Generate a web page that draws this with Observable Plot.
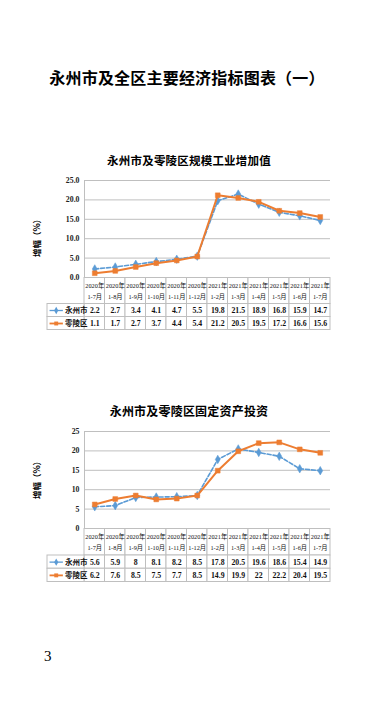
<!DOCTYPE html>
<html><head><meta charset="utf-8">
<script src="https://cdn.jsdelivr.net/npm/d3@7"></script>
<script src="https://cdn.jsdelivr.net/npm/@observablehq/plot@0.6"></script>
<style>
body{margin:0;background:#fff;}
#page{position:relative;width:377px;height:718px;overflow:hidden;font-family:"Noto Sans CJK SC",sans-serif;color:#000;}
.abs{position:absolute;white-space:nowrap;}
.ttl{font-weight:bold;text-align:center;}
.ylab{font-size:8.5px;font-weight:bold;transform:translate(-50%,-50%) rotate(-90deg);}
svg{overflow:visible;}
</style></head><body><div id="page"></div>
<script>
// ---- data ----
const pageTitle = "永州市及全区主要经济指标图表（一）";
const years  = ["2020年","2020年","2020年","2020年","2020年","2020年","2021年","2021年","2021年","2021年","2021年","2021年"];
const months = ["1-7月","1-8月","1-9月","1-10月","1-11月","1-12月","1-2月","1-3月","1-4月","1-5月","1-6月","1-7月"];
const seriesNames = ["永州市","零陵区"];

const c1Title = "永州市及零陵区规模工业增加值";
const c1Yongzhou = [2.2,2.7,3.4,4.1,4.7,5.5,19.8,21.5,18.9,16.8,15.9,14.7];
const c1Lingling = [1.1,1.7,2.7,3.7,4.4,5.4,21.2,20.5,19.5,17.2,16.6,15.6];
const c1Ticks = [0,5,10,15,20,25];

const c2Title = "永州市及零陵区固定资产投资";
const c2Yongzhou = [5.6,5.9,8,8.1,8.2,8.5,17.8,20.5,19.6,18.6,15.4,14.9];
const c2Lingling = [6.2,7.6,8.5,7.5,7.7,8.5,14.9,19.9,22,22.2,20.4,19.5];
const c2Ticks = [0,5,10,15,20,25];

const yLabel = "增幅（%）";
const pageNumber = "3";

// ---- styles ----
const BLUE = "#5b9bd5", ORANGE = "#ed7d31", GRID = "#bfbfbf";
const ML = 84, MR = 47, W = 377;
const colW = (W - ML - MR) / 12;
const LW = 37 / colW; // legend column width in column units
const page = document.getElementById("page");

function addDiv(text, cls, css) {
  const d = document.createElement("div");
  d.className = "abs " + cls;
  d.textContent = text;
  Object.assign(d.style, css);
  page.appendChild(d);
  return d;
}

function rows(vals) { return vals.map((v, i) => ({i, v, label: months[i]})); }

function chart(top, a, b, ticks, fmt) {
  const A = rows(a), B = rows(b);
  const p = Plot.plot({
    width: W, height: 110, marginTop: 10, marginBottom: 3, marginLeft: ML, marginRight: MR,
    x: {domain: [0, 12], axis: null},
    y: {domain: [0, 25], axis: null},
    style: {background: "transparent"},
    marks: [
      Plot.gridY(ticks, {stroke: GRID, strokeOpacity: 1, strokeWidth: 1}),
      Plot.ruleX([0], {stroke: GRID, strokeWidth: 1}),
      Plot.axisY({ticks, tickFormat: fmt, tickSize: 0, tickPadding: 5, label: null,
        fontSize: 7.8, fontFamily: "Liberation Serif", fontWeight: "bold", fill: "#222"}),
      Plot.line(A, {x: d => d.i + 0.5, y: "v", stroke: BLUE, strokeWidth: 1.6, strokeDasharray: "4,2"}),
      Plot.dot(A, {x: d => d.i + 0.5, y: "v", symbol: "diamond", r: 2.6, fill: BLUE, stroke: BLUE, strokeWidth: 0.5}),
      Plot.line(B, {x: d => d.i + 0.5, y: "v", stroke: ORANGE, strokeWidth: 2}),
      Plot.dot(B, {x: d => d.i + 0.5, y: "v", symbol: "square", r: 2.7, fill: ORANGE, stroke: ORANGE, strokeWidth: 0.5})
    ]
  });
  p.style.position = "absolute"; p.style.left = "0px"; p.style.top = top + "px";
  page.appendChild(p);
}

function table(top, a, b, H) {
  const header = months.map((m, i) => ({i, y: years[i], m}));
  const cells = [];
  [a, b].forEach((vals, r) => vals.forEach((v, i) => cells.push({i, r, v})));
  const leg = seriesNames.map((n, r) => ({r, n, color: r === 0 ? BLUE : ORANGE}));
  const p = Plot.plot({
    width: W, height: H + 1, marginTop: 0, marginBottom: 1, marginLeft: ML, marginRight: MR,
    x: {domain: [0, 12], axis: null},
    y: {domain: [0, 4], range: [0.5, H + 0.5], axis: null},
    style: {background: "transparent"},
    marks: [
      Plot.rect(header, {x1: d => d.i, x2: d => d.i + 1, y1: 0, y2: 2, fill: "white", stroke: GRID}),
      Plot.rect(cells, {x1: d => d.i, x2: d => d.i + 1, y1: d => 2 + d.r, y2: d => 3 + d.r, fill: "white", stroke: GRID}),
      Plot.rect(leg, {x1: -LW, x2: 0, y1: d => 2 + d.r, y2: d => 3 + d.r, fill: "white", stroke: GRID}),
      Plot.text(header, {x: d => d.i + 0.5, y: 0.6, text: "y", fontSize: 6.3, fontFamily: "Liberation Serif, Noto Sans CJK SC", fill: "#111"}),
      Plot.text(header, {x: d => d.i + 0.5, y: 1.45, text: "m", fontSize: 6.3, fontFamily: "Liberation Serif, Noto Sans CJK SC", fill: "#111"}),
      Plot.text(cells, {x: d => d.i + 0.5, y: d => 2.5 + d.r, text: d => String(d.v), fontSize: 7.8, fontFamily: "Liberation Serif", fontWeight: "bold", fill: "#111"}),
      Plot.link(leg, {x1: -LW + 0.1, x2: -LW + 0.75, y1: d => 2.5 + d.r, y2: d => 2.5 + d.r, stroke: "color",
        strokeWidth: d => d.r === 0 ? 1.3 : 1.8, strokeDasharray: d => d.r === 0 ? "2.5,1.5" : null}),
      Plot.dot(leg, {x: -LW + 0.425, y: d => 2.5 + d.r, symbol: d => d.r === 0 ? "diamond" : "square", r: 2.2, fill: "color", stroke: "none"}),
      Plot.text(leg, {x: -LW + 0.85, y: d => 2.5 + d.r, text: "n", textAnchor: "start", fontSize: 7.5, fontWeight: "bold", fontFamily: "Noto Sans CJK SC", fill: "#111"})
    ]
  });
  p.style.position = "absolute"; p.style.left = "0px"; p.style.top = top + "px";
  page.appendChild(p);
}

// page title
addDiv(pageTitle, "ttl", {left: "0px", width: "374px", top: "65px", fontSize: "16px", letterSpacing: "0.2px"});

// chart 1
addDiv(c1Title, "ttl", {left: "0px", width: "378px", top: "152px", fontSize: "11.5px", letterSpacing: "0.2px"});
addDiv(yLabel, "ylab", {left: "36px", top: "236px"});
chart(170, c1Yongzhou, c1Lingling, c1Ticks, d3.format(".1f"));
table(277, c1Yongzhou, c1Lingling, 52);

// chart 2
addDiv(c2Title, "ttl", {left: "0px", width: "378px", top: "402px", fontSize: "12px", letterSpacing: "0.2px"});
addDiv(yLabel, "ylab", {left: "36px", top: "478px"});
chart(421, c2Yongzhou, c2Lingling, c2Ticks, d3.format("d"));
table(528, c2Yongzhou, c2Lingling, 53);

// page number
addDiv(pageNumber, "", {left: "44px", top: "648px", fontSize: "15px", fontFamily: "Liberation Serif"});
</script></body></html>
